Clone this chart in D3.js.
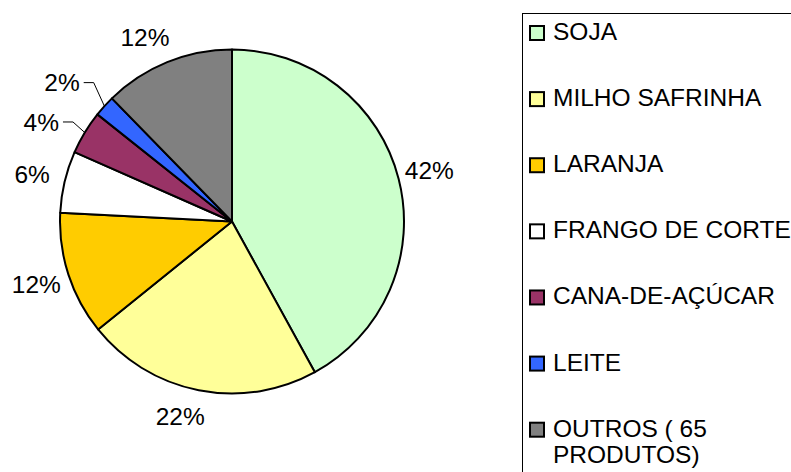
<!DOCTYPE html>
<html>
<head>
<meta charset="utf-8">
<script src="https://cdn.jsdelivr.net/npm/d3@7/dist/d3.min.js"></script>
<style>
  html, body { margin: 0; padding: 0; background: #fff; }
  svg { display: block; }
  text { font-family: "Liberation Sans", Arial, sans-serif; fill: #000; }
</style>
</head>
<body>
<svg id="chart" width="791" height="472"></svg>
<script>
// ---- data ----
const categories = ["SOJA", "MILHO SAFRINHA", "LARANJA", "FRANGO DE CORTE", "CANA-DE-AÇÚCAR", "LEITE", "OUTROS ( 65 PRODUTOS)"];
const values = [42.0, 22.2, 11.6, 5.8, 4.1, 2.0, 12.3];
const colors = ["#CCFFCC", "#FFFF99", "#FFCC00", "#FFFFFF", "#993366", "#3366FF", "#808080"];
const legendLines = [["SOJA"], ["MILHO SAFRINHA"], ["LARANJA"], ["FRANGO DE CORTE"], ["CANA-DE-AÇÚCAR"], ["LEITE"], ["OUTROS ( 65", "PRODUTOS)"]];

const svg = d3.select("#chart");
const W = 791, H = 472;
const cx = 232, cy = 221.5, r = 172;
const fontSize = 24.5;

const total = d3.sum(values);
const pie = d3.pie().sort(null).value(d => d)(values);
const arc = d3.arc().innerRadius(0).outerRadius(r);

const g = svg.append("g").attr("transform", `translate(${cx},${cy})`);
g.selectAll("path.slice").data(pie).enter().append("path")
  .attr("class", "slice")
  .attr("d", arc)
  .attr("fill", (d, i) => colors[i])
  .attr("stroke", "#000")
  .attr("stroke-width", 2)
  .attr("stroke-linejoin", "round");

// labels
const fmt = v => Math.round(v / total * 100) + "%";
pie.forEach((d, i) => {
  const pct = d.value / total * 100;
  const a = (d.startAngle + d.endAngle) / 2;
  const sx = Math.sin(a), sy = -Math.cos(a);
  if (pct < 5) {
    // leader line label
    const er = r + 12 + (5 - pct) * 4;
    const ea = a + (5 - pct) * Math.PI / 180;
    const p0 = [sx * r, sy * r];
    const p1 = [Math.sin(ea) * er, -Math.cos(ea) * er];
    const p2 = [p1[0] - 10, p1[1]];
    g.append("polyline")
      .attr("points", [p0, p1, p2].map(p => p.join(",")).join(" "))
      .attr("fill", "none").attr("stroke", "#000").attr("stroke-width", 1);
    g.append("text")
      .attr("x", p2[0] - 4).attr("y", p2[1])
      .attr("dy", "0.35em")
      .attr("text-anchor", "end")
      .style("font-size", fontSize + "px")
      .text(fmt(d.value));
  } else {
    const c2 = Math.cos(a) * Math.cos(a);
    const lr = r + 33 - 7 * c2;
    g.append("text")
      .attr("x", sx * lr - 14 * c2).attr("y", sy * lr)
      .attr("dy", "0.35em")
      .attr("text-anchor", "middle")
      .style("font-size", fontSize + "px")
      .text(fmt(d.value));
  }
});

// legend
const lx = 522.5, ly = 13.5;
svg.append("rect")
  .attr("x", lx).attr("y", ly)
  .attr("width", W - lx + 20).attr("height", H - ly + 20)
  .attr("fill", "#fff").attr("stroke", "#000").attr("stroke-width", 1);

const itemY = d3.scalePoint().domain(d3.range(categories.length)).range([40, 436.7]);
const items = svg.selectAll("g.item").data(categories).enter().append("g")
  .attr("class", "item")
  .attr("transform", (d, i) => `translate(0,${itemY(i)})`);
items.append("rect")
  .attr("x", 530).attr("y", -14)
  .attr("width", 14).attr("height", 14)
  .attr("fill", (d, i) => colors[i])
  .attr("stroke", "#000").attr("stroke-width", 2);
items.append("text")
  .attr("x", 553).attr("y", 0)
  .style("font-size", fontSize + "px")
  .selectAll("tspan").data((d, i) => legendLines[i]).enter().append("tspan")
  .attr("x", 553)
  .attr("dy", (d, j) => j === 0 ? 0 : 26.3)
  .text(d => d);
</script>
</body>
</html>
